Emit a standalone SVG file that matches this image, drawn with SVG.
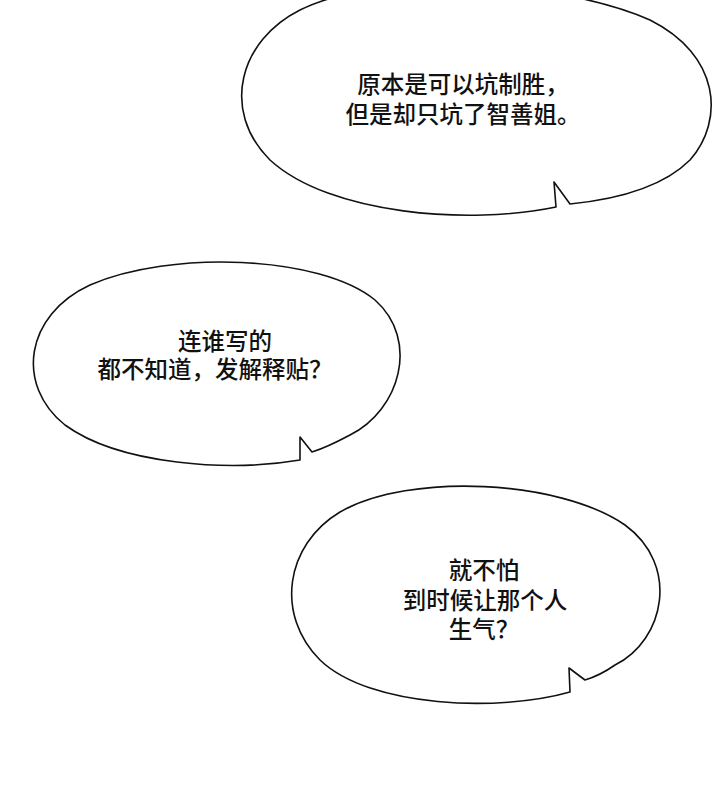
<svg xmlns="http://www.w3.org/2000/svg" width="720" height="804" viewBox="0 0 720 804">
<style>
.b{fill:#fff;stroke:#111;stroke-width:1.6;stroke-linejoin:round}
.t{font-family:"Noto Sans CJK SC","Noto Sans",sans-serif;font-size:23.5px;font-weight:500;fill:#111;text-anchor:middle}
</style>
<rect width="720" height="804" fill="#fff"/>
<g id="bubble1">
<path class="b" d="M556,207 C470,225 330,215 270,160 C220,110 240,40 300,10 C380,-30 560,-20 650,20 C720,55 725,120 690,160 C660,190 610,200 570,204 L554,182 Z"/>
<text class="t" x="463" y="93">原本是可以坑制胜，</text>
<text class="t" x="463" y="123">但是却只坑了智善姐。</text>
</g>
<g id="bubble2">
<path class="b" d="M300,460 C230,472 120,465 65,425 C15,385 25,315 90,285 C170,250 320,255 375,300 C420,340 400,410 350,435 C335,443 325,448 312,452 L300,437 Z"/>
<text class="t" x="225" y="350">连谁写的</text>
<text class="t" x="215" y="378">都不知道，发解释贴？</text>
</g>
<g id="bubble3">
<path class="b" d="M570,692 C500,712 370,708 320,660 C275,615 285,545 340,512 C410,472 560,480 625,525 C680,565 665,640 615,665 C605,672 595,677 585,680 L569,668 Z"/>
<text class="t" x="484" y="579">就不怕</text>
<text class="t" x="485" y="609">到时候让那个人</text>
<text class="t" x="484" y="638">生气？</text>
</g>
</svg>
